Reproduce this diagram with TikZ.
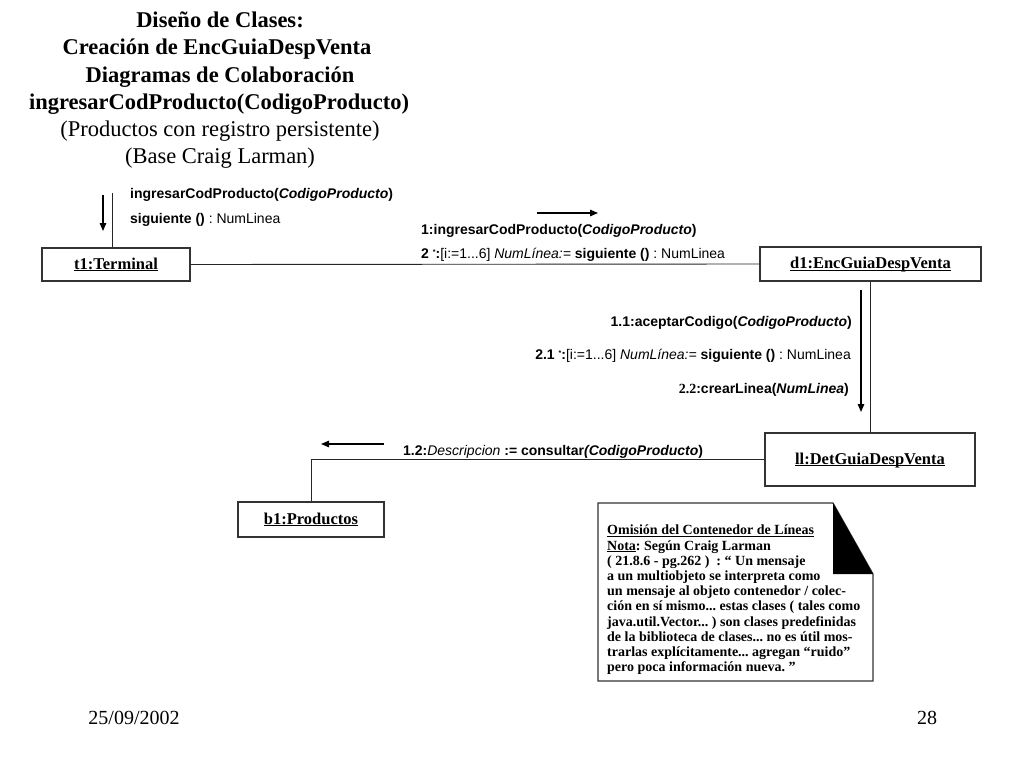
\documentclass[tikz,border=0pt]{standalone}
\usepackage{fontspec}
\setmainfont{Liberation Serif}
\setsansfont{Liberation Sans}
\usetikzlibrary{arrows.meta}
\newcommand{\starmark}{\raisebox{0.45ex}{\fontsize{7}{7}\selectfont *}}
\newcommand{\objname}[1]{\underline{\raisebox{0pt}[\height][0pt]{#1}}}
\frenchspacing
\begin{document}
\begin{tikzpicture}[x=1pt,y=-1pt,
  obj/.style={draw=black!80, line width=1.3pt, minimum height=34pt, inner sep=0pt,
    font=\fontsize{16.5}{18}\selectfont\bfseries},
  conn/.style={draw=black!85, line width=0.9pt},
  msgarrow/.style={draw=black, line width=1.3pt, -{Triangle[length=8pt,width=6.5pt]}},
  lbl/.style={inner sep=0pt, font=\sffamily\fontsize{14}{16}\selectfont},
  ttlb/.style={inner sep=0pt, anchor=base, font=\fontsize{22.5}{27}\selectfont\bfseries},
  ttlr/.style={inner sep=0pt, anchor=base, font=\fontsize{22.5}{27}\selectfont},
  notetext/.style={inner sep=0pt, anchor=north west, align=left,
    font=\fontsize{14}{15.2}\selectfont\bfseries},
  foot/.style={inner sep=0pt, anchor=base, font=\fontsize{20}{22}\selectfont}]
\useasboundingbox (0,0) rectangle (1024,768);

% title
\node[ttlb] (title1) at (220,28) {Diseño de Clases:};
\node[ttlb] (title2) at (217,55) {Creación de EncGuiaDespVenta};
\node[ttlb] (title3) at (220,82) {Diagramas de Colaboración};
\node[ttlb] (title4) at (219,109) {ingresarCodProducto(CodigoProducto)};
\node[ttlr] (title5) at (220,136) {(Productos con registro persistente)};
\node[ttlr] (title6) at (220,163) {(Base Craig Larman)};

% objects
\node[obj, minimum width=148pt, minimum height=33pt] (t1) at (116,264.5) {\objname{t1:Terminal}};
\node[obj, minimum width=221pt] (d1) at (870.5,264) {\objname{d1:EncGuiaDespVenta}};
\node[obj, minimum width=210pt, minimum height=53pt] (ll) at (870,459.5) {\objname{ll:DetGuiaDespVenta}};
\node[obj, minimum width=146pt, minimum height=35pt] (b1) at (311,519.5) {\objname{b1:Productos}};

% links
\coordinate (t1top) at (112,193);
\draw[conn] (t1top) -- (t1top |- t1.north);
\draw[conn] (t1.east) -- (d1.west);
\draw[conn] (d1.south) -- (d1.south |- ll.north);
\draw[conn] (ll.west) -- (b1.north |- ll.west) -- (b1.north);

% message arrows
\coordinate (a0s) at (103,195); \coordinate (a0e) at (103,231);
\draw[msgarrow] (a0s) -- (a0e);
\coordinate (a1s) at (537,213); \coordinate (a1e) at (598,213);
\draw[msgarrow] (a1s) -- (a1e);
\coordinate (a2s) at (861,290); \coordinate (a2e) at (861,412);
\draw[msgarrow] (a2s) -- (a2e);
\coordinate (a3s) at (384,444); \coordinate (a3e) at (321,444);
\draw[msgarrow] (a3s) -- (a3e);

% message labels
\node[lbl, anchor=base west] (m0a) at (130,198) {\textbf{ingresarCodProducto(\textit{CodigoProducto})}};
\node[lbl, anchor=base west] (m0b) at (130,223) {\textbf{siguiente ()} : NumLinea};
\node[lbl, anchor=base west] (m1) at (421,234) {\textbf{1:ingresarCodProducto(\textit{CodigoProducto})}};
\node[lbl, anchor=base west] (m2) at (421,258) {\textbf{2 \starmark:}[i:=1...6] \textit{NumLínea:=} \textbf{siguiente ()} : NumLinea};
\node[lbl, anchor=base east] (m11) at (852,326) {\textbf{1.1:aceptarCodigo(\textit{CodigoProducto})}};
\node[lbl, anchor=base east] (m21) at (851,359) {\textbf{2.1 \starmark:}[i:=1...6] \textit{NumLínea:=} \textbf{siguiente ()} : NumLinea};
\node[lbl, anchor=base east] (m22) at (849,393) {\textbf{{\rmfamily 2.2}:crearLinea(\textit{NumLinea})}};
\node[lbl, anchor=base west] (m12) at (403,455) {\textbf{1.2:}\textit{Descripcion} \textbf{:= consultar\textit{(CodigoProducto})}};

% note
\draw[line width=1.2pt, draw=black!80] (598,503) -- (833,503) -- (873,574) -- (873,681) -- (598,681) -- cycle;
\fill[black] (833,503) -- (873,574) -- (833,574) -- cycle;
\node[notetext] (note) at (607,525) {\underline{Omisión del Contenedor de Líneas}\\
\underline{Nota}: Según Craig Larman\\
( 21.8.6 - pg.262 )~ : “ Un mensaje\\
a un multiobjeto se interpreta como\\
un mensaje al objeto contenedor / colec-\\
ción en sí mismo... estas clases ( tales como\\
java.util.Vector... ) son clases predefinidas\\
de la biblioteca de clases... no es útil mos-\\
trarlas explícitamente... agregan “ruido”\\
pero poca información nueva. ”};

% footer
\node[foot] (date) at (134,724) {25/09/2002};
\node[foot] (page) at (927,724) {28};
\end{tikzpicture}
\end{document}
